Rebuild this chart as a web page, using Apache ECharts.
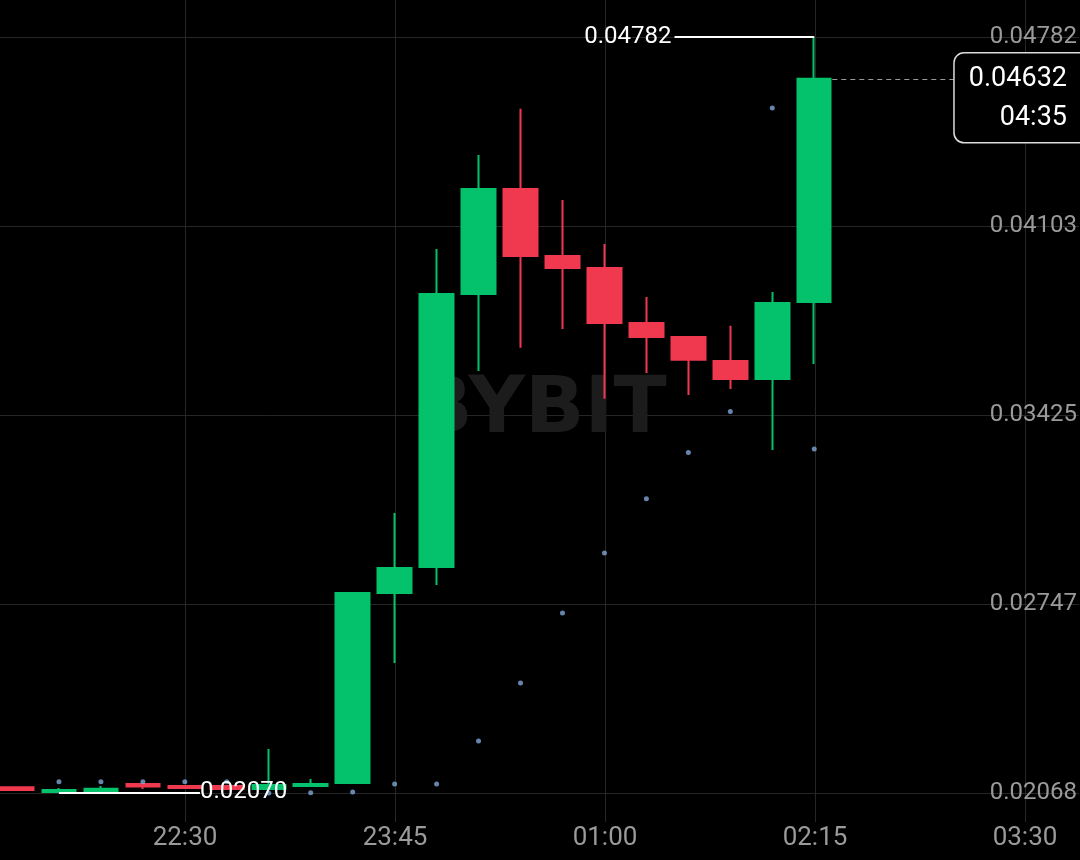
<!DOCTYPE html>
<html><head><meta charset="utf-8">
<script src="https://cdn.jsdelivr.net/npm/echarts@6/dist/echarts.min.js"></script>
<style>html,body{margin:0;padding:0;background:#000;}#c{width:1080px;height:860px;}</style>
</head><body><div id="c"></div>
<script>
// ---- data ----
const times = ['21:30','21:45','22:00','22:15','22:30','22:45','23:00','23:15','23:30','23:45',
               '00:00','00:15','00:30','00:45','01:00','01:15','01:30','01:45','02:00','02:15'];
const opens  = [0.02089,0.02072,0.02073,0.02100,0.02093,0.02093,0.02082,0.02093,0.02104,0.02786,
                0.02879,0.03859,0.04236,0.03996,0.03953,0.03755,0.03705,0.03619,0.03554,0.03831];
const closes = [0.02079,0.02079,0.02083,0.02091,0.02086,0.02082,0.02097,0.02100,0.02786,0.02876,
                0.03859,0.04236,0.03996,0.03953,0.03755,0.03705,0.03623,0.03554,0.03827,0.04632];
const lows   = [0.02078,0.02070,0.02073,0.02082,0.02082,0.02080,0.02080,0.02092,0.02102,0.02535,
                0.02815,0.03583,0.03666,0.03734,0.03483,0.03576,0.03497,0.03518,0.03299,0.03608];
const highs  = [0.02090,0.02086,0.02093,0.02101,0.02094,0.02093,0.02226,0.02118,0.02788,0.03073,
                0.04021,0.04358,0.04524,0.04197,0.04039,0.03849,0.03706,0.03745,0.03867,0.04782];
const sar    = [null,0.02108,0.02108,0.02108,0.02108,0.02108,0.02068,0.02069,0.02072,0.02100,
                0.02100,0.02255,0.02463,0.02714,0.02930,0.03124,0.03290,0.03438,0.04527,0.03303];
const yTickLabels = ['0.02068','0.02747','0.03425','0.04103','0.04782'];
const xTickLabels = ['22:30','23:45','01:00','02:15','03:30'];
const countdown = '04:35';

// ---- chart ----
const GREEN = '#03c26b', RED = '#f0384f', GRID = '#262626', AXT = '#9a9a9a';
const chart = echarts.init(document.getElementById('c'));
const XMIN = -17/42, XMAX = (1080-17)/42;
const SLOTS = 26; // candle slots incl. empty future ones
const yMin = parseFloat(yTickLabels[0]), yMax = parseFloat(yTickLabels[yTickLabels.length-1]);
const yInt = (yMax - yMin)/(yTickLabels.length-1);
const last = times.length - 1;
const candleData = times.map((t,i)=>[i, opens[i], closes[i], lows[i], highs[i]]);
const sarData = sar.map((v,i)=> v==null ? null : [i, v]).filter(Boolean);
let lowIdx = 0; lows.forEach((v,i)=>{ if (v < lows[lowIdx]) lowIdx = i; });
let highIdx = 0; highs.forEach((v,i)=>{ if (v > highs[highIdx]) highIdx = i; });
const lblFont = {color:'#fff', fontSize:24, fontFamily:'Roboto'};
const slotCats = Array.from({length:SLOTS}, (_,i)=>String(i));
const isTick = (i)=> (i-4) >= 0 && (i-4) % 5 === 0;

chart.setOption({
  backgroundColor:'#000',
  animation:false,
  grid:[{left:0,right:0,top:37,bottom:67},{left:17,right:1080-17-42*(SLOTS-1),top:0,bottom:38}],
  xAxis:[
    {type:'value', gridIndex:0, min:XMIN, max:XMAX, show:false},
    {type:'category', gridIndex:1, data:slotCats, boundaryGap:false,
     axisLine:{show:false}, axisTick:{show:false},
     splitLine:{show:true, interval:(i)=>isTick(i), lineStyle:{color:GRID, width:1}},
     axisLabel:{color:AXT, fontSize:26, fontFamily:'Roboto', margin:3, interval:(i)=>isTick(i),
       formatter:(v,i)=> xTickLabels[(i-4)/5] || ''}}
  ],
  yAxis:[
    {type:'value', gridIndex:0, position:'right', min:yMin, max:yMax, interval:yInt,
     axisLine:{show:false}, axisTick:{show:false},
     splitLine:{show:true, lineStyle:{color:GRID, width:1}},
     axisLabel:{inside:true, margin:2, color:AXT, fontSize:24, fontFamily:'Roboto',
       formatter:(v)=> yTickLabels[Math.round((v-yMin)/yInt)] || ''}},
    {type:'value', gridIndex:1, min:0, max:1, show:false}
  ],
  series:[
    {type:'candlestick', xAxisIndex:0, yAxisIndex:0, data:candleData, barWidth:34, clip:false,
     itemStyle:{color:GREEN, color0:RED, borderColor:GREEN, borderColor0:RED, borderWidth:2},
     markLine:{symbol:['none','none'], silent:true, animation:false, data:[
       [{coord:[highIdx-3.33, highs[highIdx]], lineStyle:{color:'#fff', width:2, type:'solid'},
         label:{show:true, position:'start', distance:3, formatter:highs[highIdx].toFixed(5), ...lblFont}},
        {coord:[highIdx, highs[highIdx]]}],
       [{coord:[lowIdx, lows[lowIdx]], lineStyle:{color:'#fff', width:2, type:'solid'},
         label:{show:true, position:'end', distance:0, formatter:lows[lowIdx].toFixed(5), ...lblFont}},
        {coord:[lowIdx+3.36, lows[lowIdx]]}],
       [{coord:[last+0.43, closes[last]], lineStyle:{color:'#9a9a9a', width:1, type:[5,4]}, label:{show:false}},
        {coord:[last+3.33, closes[last]]}]
     ]}},
    {type:'scatter', xAxisIndex:0, yAxisIndex:0, data:sarData, symbolSize:5, clip:false,
     itemStyle:{color:'#7ea6d8'}, z:3}
  ]
});

const p = chart.convertToPixel({xAxisIndex:0, yAxisIndex:0}, [last+3.33, closes[last]]);
const bx = p[0], by = p[1];
chart.setOption({graphic:[
  {type:'text', z:1, silent:true, style:{text:'BYBIT', x:540, y:412, align:'center', verticalAlign:'middle',
    font:'bold 78px "DejaVu Sans"', fill:'#1c1c1c'}},
  {type:'rect', z:10, silent:true, shape:{x:bx, y:by-26, width:140, height:90, r:10},
    style:{fill:'#000', stroke:'#dcdcdc', lineWidth:1.5}},
  {type:'text', z:11, silent:true, style:{text:closes[last].toFixed(5), x:bx+113, y:by, align:'right', verticalAlign:'middle',
    font:'27px Roboto', fill:'#fff'}},
  {type:'text', z:11, silent:true, style:{text:countdown, x:bx+113, y:by+39, align:'right', verticalAlign:'middle',
    font:'27px Roboto', fill:'#fff'}}
]});
</script></body></html>
